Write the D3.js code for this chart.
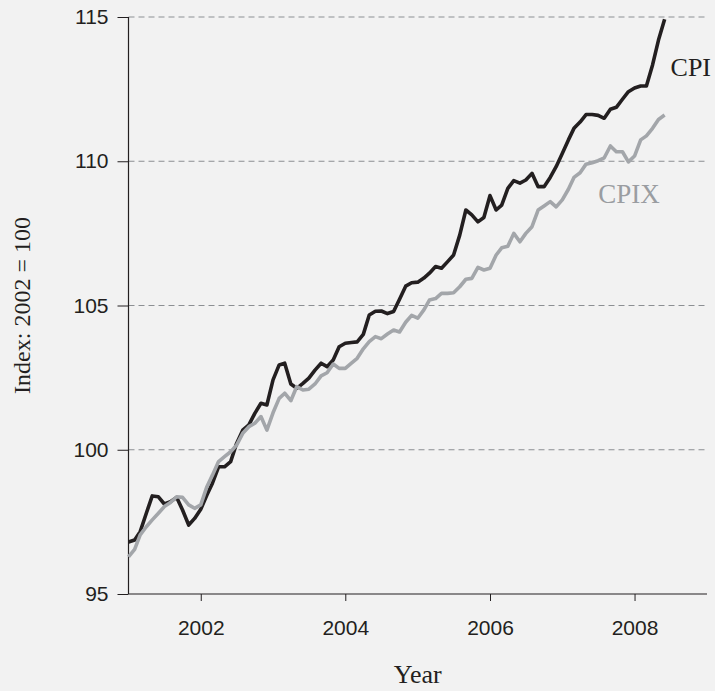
<!DOCTYPE html>
<html>
<head>
<meta charset="utf-8">
<script src="https://cdn.jsdelivr.net/npm/d3@7"></script>
<style>
  html, body { margin: 0; padding: 0; background: #f2f2f2; }
  svg { display: block; }
</style>
</head>
<body>
<svg id="chart" width="715" height="691"></svg>
<script>
// ---- data (monthly, Jan 2001 – Jun 2008) ----
const startMonth = new Date(2001, 0, 1);
const endMonth = new Date(2008, 6, 1); // exclusive
const cpi = [
  96.80, 96.87, 97.16, 97.80, 98.40, 98.37, 98.12, 98.20, 98.35, 97.91, 97.39, 97.62,
  97.94, 98.43, 98.84, 99.41, 99.41, 99.59, 100.22, 100.68, 100.86, 101.26, 101.61, 101.55,
  102.42, 102.94, 103.00, 102.28, 102.13, 102.30, 102.48, 102.76, 103.00, 102.88, 103.11, 103.57,
  103.69, 103.72, 103.74, 104.00, 104.67, 104.80, 104.81, 104.72, 104.79, 105.22, 105.67, 105.79,
  105.81, 105.95, 106.12, 106.35, 106.29, 106.52, 106.75, 107.44, 108.31, 108.14, 107.90, 108.05,
  108.81, 108.31, 108.48, 109.06, 109.33, 109.24, 109.35, 109.58, 109.12, 109.12, 109.44, 109.81,
  110.27, 110.74, 111.14, 111.36, 111.62, 111.62, 111.59, 111.49, 111.80, 111.87, 112.15, 112.41,
  112.54, 112.61, 112.61, 113.34, 114.20, 114.92
];
const cpix = [
  96.29, 96.55, 97.05, 97.33, 97.57, 97.80, 98.03, 98.17, 98.37, 98.35, 98.09, 97.97,
  98.09, 98.72, 99.12, 99.59, 99.76, 99.93, 100.16, 100.57, 100.80, 100.92, 101.15, 100.68,
  101.28, 101.78, 101.96, 101.70, 102.19, 102.07, 102.10, 102.28, 102.56, 102.67, 102.97, 102.82,
  102.82, 103.00, 103.17, 103.50, 103.75, 103.92, 103.85, 104.01, 104.15, 104.08, 104.42, 104.66,
  104.56, 104.85, 105.19, 105.24, 105.42, 105.42, 105.44, 105.65, 105.91, 105.94, 106.32, 106.23,
  106.29, 106.75, 107.00, 107.05, 107.50, 107.21, 107.50, 107.73, 108.31, 108.45, 108.60, 108.42,
  108.66, 109.03, 109.44, 109.60, 109.90, 109.95, 110.02, 110.12, 110.53, 110.33, 110.33, 109.98,
  110.18, 110.74, 110.88, 111.14, 111.45, 111.60
];
const xTickYears = [2002, 2004, 2006, 2008];
const yTicks = [95, 100, 105, 110, 115];
const gridValues = [100, 105, 110, 115];
const seriesNames = ["CPI", "CPIX"];

// ---- layout ----
const W = 715, H = 691;
const margin = { left: 128.5, right: 8, top: 17, bottom: 97 };
const iw = W - margin.left - margin.right;
const ih = H - margin.top - margin.bottom;

const months = d3.timeMonth.range(startMonth, endMonth);

const x = d3.scaleTime()
  .domain([new Date(2001, 0, 1), new Date(2009, 0, 1)])
  .range([0, iw]);
const y = d3.scaleLinear().domain([95, 115]).range([ih, 0]);

const svg = d3.select("#chart");
svg.append("rect").attr("width", W).attr("height", H).attr("fill", "#f2f2f2");
const g = svg.append("g").attr("transform", `translate(${margin.left},${margin.top})`);

// grid lines
g.append("g").selectAll("line").data(gridValues).join("line")
  .attr("x1", 0).attr("x2", iw)
  .attr("y1", d => y(d)).attr("y2", d => y(d))
  .attr("stroke", "#8c8f93").attr("stroke-width", 1.2)
  .attr("stroke-dasharray", "6,4");

// axes
const tickFont = "'Liberation Sans', Arial, sans-serif";
const yAxis = g.append("g")
  .call(d3.axisLeft(y).tickValues(yTicks).tickSize(11).tickPadding(9).tickFormat(d3.format("d")));
const xAxis = g.append("g").attr("transform", `translate(0,${ih})`)
  .call(d3.axisBottom(x).tickValues(xTickYears.map(yv => new Date(yv, 0, 1)))
    .tickSize(7).tickPadding(19).tickFormat(d3.timeFormat("%Y")));
[yAxis, xAxis].forEach(a => {
  a.select(".domain").attr("stroke", "#231f20").attr("stroke-width", 1.2);
  a.selectAll(".tick line").attr("stroke", "#231f20").attr("stroke-width", 1);
  a.selectAll(".tick text").attr("fill", "#231f20")
    .style("font-family", tickFont).style("font-size", "21px");
});
yAxis.select(".domain").attr("d", `M0,${ih}V0`);
xAxis.select(".domain").attr("d", `M0,0H${iw}`);

// lines
const line = d3.line().x((d, i) => x(months[i])).y(d => y(d));
const colors = { CPI: "#231f20", CPIX: "#a3a6aa" };
g.append("path").datum(cpi).attr("d", line)
  .attr("fill", "none").attr("stroke", colors.CPI).attr("stroke-width", 3.6)
  .attr("stroke-linejoin", "round").attr("stroke-linecap", "butt");
g.append("path").datum(cpix).attr("d", line)
  .attr("fill", "none").attr("stroke", colors.CPIX).attr("stroke-width", 3.6)
  .attr("stroke-linejoin", "round").attr("stroke-linecap", "butt");

// series labels
const serif = "'Liberation Serif', 'Times New Roman', serif";
g.append("text").text(seriesNames[0])
  .attr("x", x(new Date(2008, 6, 1))).attr("y", y(112.95))
  .attr("fill", "#231f20").style("font-family", serif).style("font-size", "26px");
g.append("text").text(seriesNames[1])
  .attr("x", x(new Date(2007, 5, 1)) + 6).attr("y", y(108.55))
  .attr("fill", "#9a9da1").style("font-family", serif).style("font-size", "27px");

// axis titles
svg.append("text").text("Year")
  .attr("x", margin.left + iw / 2).attr("y", 683)
  .attr("text-anchor", "middle").attr("fill", "#231f20")
  .style("font-family", serif).style("font-size", "26px");
svg.append("text").text("Index: 2002 = 100")
  .attr("transform", `translate(30,${margin.top + ih / 2}) rotate(-90)`)
  .attr("text-anchor", "middle").attr("fill", "#231f20")
  .style("font-family", serif).style("font-size", "24px");
</script>
</body>
</html>
